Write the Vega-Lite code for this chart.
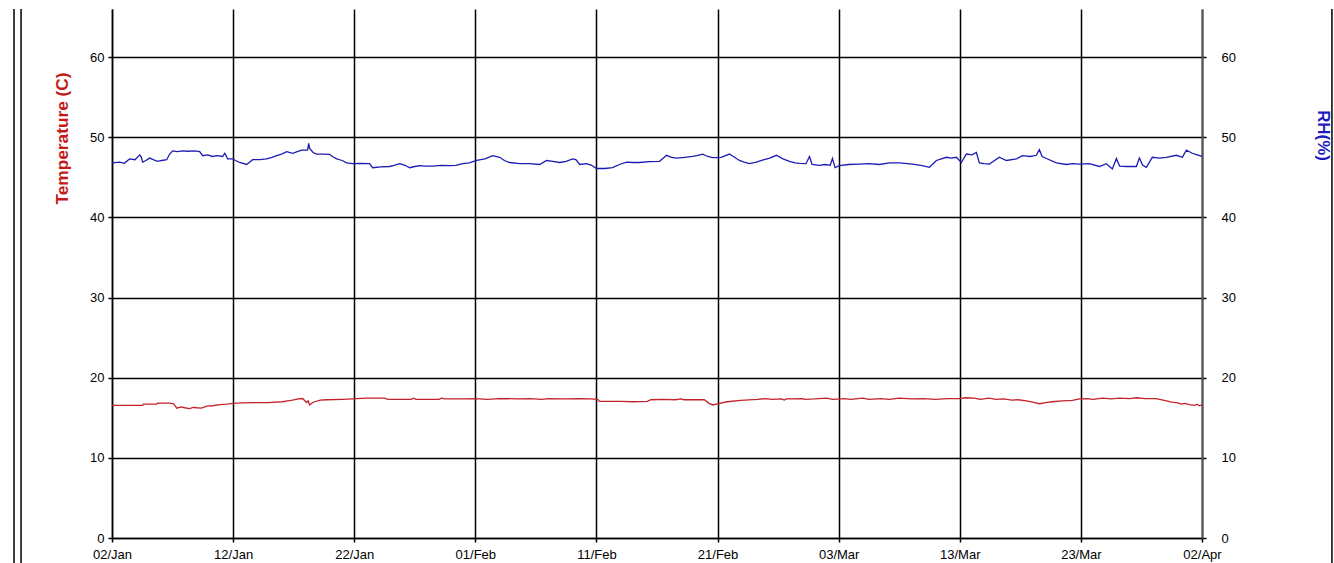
{
  "$schema": "https://vega.github.io/schema/vega-lite/v6.json",
  "width": 1090,
  "height": 529,
  "autosize": {"type": "none"},
  "padding": {"left": 112, "top": 9, "right": 132, "bottom": 25},
  "background": "white",
  "config": {"view": {"stroke": null}, "font": "Liberation Sans"},
  "datasets": {
    "temp": [
      {"day": 0, "t": 16.55}, {"day": 1.5, "t": 16.55}, {"day": 2.54, "t": 16.55}, {"day": 2.6, "t": 16.7},
      {"day": 3.2, "t": 16.7}, {"day": 3.69, "t": 16.7}, {"day": 3.75, "t": 16.83}, {"day": 4.76, "t": 16.83},
      {"day": 5.1, "t": 16.75}, {"day": 5.34, "t": 16.2}, {"day": 5.7, "t": 16.35}, {"day": 6.0, "t": 16.25},
      {"day": 6.4, "t": 16.15}, {"day": 6.7, "t": 16.3}, {"day": 7.0, "t": 16.25}, {"day": 7.4, "t": 16.2},
      {"day": 7.82, "t": 16.45}, {"day": 8.3, "t": 16.5}, {"day": 8.9, "t": 16.65}, {"day": 9.5, "t": 16.7},
      {"day": 9.96, "t": 16.8}, {"day": 10.8, "t": 16.85}, {"day": 11.61, "t": 16.9}, {"day": 12.8, "t": 16.9},
      {"day": 14.08, "t": 17.0}, {"day": 14.5, "t": 17.1}, {"day": 14.9, "t": 17.2}, {"day": 15.4, "t": 17.35},
      {"day": 15.74, "t": 17.4}, {"day": 16.07, "t": 16.9}, {"day": 16.2, "t": 17.1}, {"day": 16.32, "t": 16.6},
      {"day": 16.57, "t": 16.9}, {"day": 16.74, "t": 17.0}, {"day": 17.2, "t": 17.2}, {"day": 17.73, "t": 17.25},
      {"day": 19.0, "t": 17.3}, {"day": 19.87, "t": 17.35}, {"day": 21, "t": 17.45}, {"day": 22.5, "t": 17.45},
      {"day": 22.8, "t": 17.3}, {"day": 24.7, "t": 17.3}, {"day": 24.9, "t": 17.45}, {"day": 25.1, "t": 17.3},
      {"day": 27, "t": 17.3}, {"day": 27.2, "t": 17.45}, {"day": 27.5, "t": 17.35}, {"day": 29, "t": 17.35},
      {"day": 30, "t": 17.4}, {"day": 31, "t": 17.3}, {"day": 32, "t": 17.4}, {"day": 33.5, "t": 17.35},
      {"day": 34.5, "t": 17.4}, {"day": 35.5, "t": 17.3}, {"day": 36, "t": 17.4}, {"day": 37.5, "t": 17.35},
      {"day": 38.5, "t": 17.4}, {"day": 39.5, "t": 17.35}, {"day": 40.1, "t": 17.3}, {"day": 40.25, "t": 17.05},
      {"day": 42, "t": 17.05}, {"day": 43, "t": 17.0}, {"day": 44.2, "t": 17.05}, {"day": 44.5, "t": 17.25},
      {"day": 45.5, "t": 17.3}, {"day": 46.5, "t": 17.25}, {"day": 47, "t": 17.35}, {"day": 47.2, "t": 17.25},
      {"day": 48.9, "t": 17.25}, {"day": 49.3, "t": 16.8}, {"day": 49.6, "t": 16.6}, {"day": 49.9, "t": 16.7},
      {"day": 50.8, "t": 17.0}, {"day": 51.9, "t": 17.17}, {"day": 53.3, "t": 17.3}, {"day": 54, "t": 17.4},
      {"day": 54.5, "t": 17.3}, {"day": 55.3, "t": 17.35}, {"day": 55.5, "t": 17.2}, {"day": 55.7, "t": 17.35},
      {"day": 57, "t": 17.4}, {"day": 57.2, "t": 17.3}, {"day": 58, "t": 17.35}, {"day": 59, "t": 17.45},
      {"day": 59.5, "t": 17.3}, {"day": 60.5, "t": 17.4}, {"day": 61, "t": 17.3}, {"day": 62, "t": 17.45},
      {"day": 62.5, "t": 17.3}, {"day": 63.5, "t": 17.4}, {"day": 64.2, "t": 17.3}, {"day": 65, "t": 17.45},
      {"day": 66, "t": 17.35}, {"day": 67, "t": 17.4}, {"day": 68, "t": 17.3}, {"day": 69, "t": 17.4},
      {"day": 70, "t": 17.4}, {"day": 70.5, "t": 17.5}, {"day": 71.2, "t": 17.45}, {"day": 71.7, "t": 17.3},
      {"day": 72.4, "t": 17.45}, {"day": 73, "t": 17.3}, {"day": 73.6, "t": 17.35}, {"day": 74.3, "t": 17.2},
      {"day": 74.8, "t": 17.25}, {"day": 75.5, "t": 17.1}, {"day": 76, "t": 16.95}, {"day": 76.6, "t": 16.75},
      {"day": 77.1, "t": 16.9}, {"day": 77.6, "t": 17.0}, {"day": 78.5, "t": 17.1}, {"day": 79.3, "t": 17.17},
      {"day": 79.9, "t": 17.35}, {"day": 80.5, "t": 17.4}, {"day": 81, "t": 17.3}, {"day": 81.8, "t": 17.45},
      {"day": 82.5, "t": 17.35}, {"day": 83.2, "t": 17.45}, {"day": 84, "t": 17.4}, {"day": 84.6, "t": 17.5},
      {"day": 85.3, "t": 17.4}, {"day": 86.2, "t": 17.4}, {"day": 86.8, "t": 17.2}, {"day": 87.5, "t": 16.95},
      {"day": 88, "t": 16.85}, {"day": 88.3, "t": 16.7}, {"day": 88.6, "t": 16.8}, {"day": 88.96, "t": 16.65},
      {"day": 89.4, "t": 16.55}, {"day": 89.6, "t": 16.7}, {"day": 89.8, "t": 16.5}, {"day": 90, "t": 16.6}
    ],
    "rh": [
      {"day": 0, "rh": 46.8}, {"day": 0.64, "rh": 46.9}, {"day": 1.0, "rh": 46.75}, {"day": 1.46, "rh": 47.3},
      {"day": 1.9, "rh": 47.2}, {"day": 2.29, "rh": 47.8}, {"day": 2.4, "rh": 47.6}, {"day": 2.53, "rh": 46.9},
      {"day": 2.8, "rh": 47.1}, {"day": 3.11, "rh": 47.4}, {"day": 3.4, "rh": 47.2}, {"day": 3.77, "rh": 47.0},
      {"day": 4.1, "rh": 47.1}, {"day": 4.52, "rh": 47.2}, {"day": 4.76, "rh": 47.9}, {"day": 5.01, "rh": 48.3},
      {"day": 5.4, "rh": 48.2}, {"day": 5.84, "rh": 48.3}, {"day": 6.3, "rh": 48.25}, {"day": 6.8, "rh": 48.3},
      {"day": 7.24, "rh": 48.2}, {"day": 7.49, "rh": 47.7}, {"day": 7.9, "rh": 47.8}, {"day": 8.31, "rh": 47.6},
      {"day": 8.7, "rh": 47.7}, {"day": 9.14, "rh": 47.6}, {"day": 9.31, "rh": 48.0}, {"day": 9.55, "rh": 47.3},
      {"day": 9.96, "rh": 47.3}, {"day": 10.2, "rh": 47.1}, {"day": 10.54, "rh": 46.85}, {"day": 11.12, "rh": 46.6},
      {"day": 11.61, "rh": 47.2}, {"day": 12.2, "rh": 47.2}, {"day": 12.77, "rh": 47.3}, {"day": 13.2, "rh": 47.5},
      {"day": 13.59, "rh": 47.7}, {"day": 14.0, "rh": 47.9}, {"day": 14.42, "rh": 48.2}, {"day": 14.92, "rh": 48.0},
      {"day": 15.3, "rh": 48.2}, {"day": 15.66, "rh": 48.4}, {"day": 16.15, "rh": 48.4}, {"day": 16.24, "rh": 49.25},
      {"day": 16.32, "rh": 48.6}, {"day": 16.6, "rh": 48.1}, {"day": 16.9, "rh": 47.9}, {"day": 17.4, "rh": 47.9},
      {"day": 17.97, "rh": 47.85}, {"day": 18.2, "rh": 47.6}, {"day": 18.55, "rh": 47.3}, {"day": 19.0, "rh": 47.1},
      {"day": 19.38, "rh": 46.8}, {"day": 19.87, "rh": 46.7}, {"day": 20.5, "rh": 46.75}, {"day": 21.27, "rh": 46.7},
      {"day": 21.52, "rh": 46.2}, {"day": 22.2, "rh": 46.3}, {"day": 22.92, "rh": 46.35}, {"day": 23.3, "rh": 46.5},
      {"day": 23.75, "rh": 46.7}, {"day": 24.2, "rh": 46.5}, {"day": 24.57, "rh": 46.2}, {"day": 25.0, "rh": 46.35},
      {"day": 25.4, "rh": 46.45}, {"day": 25.9, "rh": 46.4}, {"day": 26.47, "rh": 46.4}, {"day": 27.2, "rh": 46.5},
      {"day": 27.88, "rh": 46.45}, {"day": 28.4, "rh": 46.5}, {"day": 28.95, "rh": 46.7}, {"day": 29.5, "rh": 46.8},
      {"day": 30.11, "rh": 47.1}, {"day": 30.8, "rh": 47.3}, {"day": 31.43, "rh": 47.7}, {"day": 32.01, "rh": 47.5},
      {"day": 32.4, "rh": 47.1}, {"day": 32.83, "rh": 46.85}, {"day": 33.66, "rh": 46.7}, {"day": 34.48, "rh": 46.7},
      {"day": 35.31, "rh": 46.6}, {"day": 35.88, "rh": 47.1}, {"day": 36.4, "rh": 47.0}, {"day": 36.96, "rh": 46.85},
      {"day": 37.5, "rh": 47.0}, {"day": 38.03, "rh": 47.3}, {"day": 38.3, "rh": 47.2}, {"day": 38.61, "rh": 46.6},
      {"day": 39.19, "rh": 46.7}, {"day": 39.6, "rh": 46.5}, {"day": 40.01, "rh": 46.1}, {"day": 40.7, "rh": 46.1},
      {"day": 41.33, "rh": 46.2}, {"day": 41.9, "rh": 46.6}, {"day": 42.49, "rh": 46.9}, {"day": 43.0, "rh": 46.85},
      {"day": 43.56, "rh": 46.85}, {"day": 44.4, "rh": 46.95}, {"day": 45.21, "rh": 47.0}, {"day": 45.79, "rh": 47.75},
      {"day": 46.2, "rh": 47.5}, {"day": 46.61, "rh": 47.4}, {"day": 47.3, "rh": 47.5}, {"day": 47.93, "rh": 47.6},
      {"day": 48.3, "rh": 47.7}, {"day": 48.76, "rh": 47.9}, {"day": 49.2, "rh": 47.6}, {"day": 49.58, "rh": 47.45},
      {"day": 50.3, "rh": 47.5}, {"day": 50.98, "rh": 47.9}, {"day": 51.4, "rh": 47.5}, {"day": 51.81, "rh": 47.1},
      {"day": 52.2, "rh": 46.9}, {"day": 52.63, "rh": 46.7}, {"day": 53.2, "rh": 46.9}, {"day": 53.71, "rh": 47.15},
      {"day": 54.3, "rh": 47.4}, {"day": 54.86, "rh": 47.75}, {"day": 55.4, "rh": 47.3}, {"day": 55.94, "rh": 47.0},
      {"day": 56.4, "rh": 46.8}, {"day": 56.76, "rh": 46.75}, {"day": 57.3, "rh": 46.7}, {"day": 57.59, "rh": 47.6},
      {"day": 57.8, "rh": 46.6}, {"day": 58.41, "rh": 46.5}, {"day": 58.9, "rh": 46.6}, {"day": 59.3, "rh": 46.5},
      {"day": 59.49, "rh": 47.35}, {"day": 59.7, "rh": 46.2}, {"day": 60.06, "rh": 46.45}, {"day": 60.8, "rh": 46.6},
      {"day": 61.71, "rh": 46.65}, {"day": 62.5, "rh": 46.7}, {"day": 63.36, "rh": 46.6}, {"day": 64.2, "rh": 46.8},
      {"day": 65.02, "rh": 46.8}, {"day": 66.09, "rh": 46.65}, {"day": 66.8, "rh": 46.5}, {"day": 67.49, "rh": 46.25},
      {"day": 68.07, "rh": 47.1}, {"day": 68.9, "rh": 47.5}, {"day": 69.3, "rh": 47.4}, {"day": 69.72, "rh": 47.5},
      {"day": 70.13, "rh": 46.85}, {"day": 70.54, "rh": 47.9}, {"day": 71.0, "rh": 47.8}, {"day": 71.37, "rh": 48.1},
      {"day": 71.62, "rh": 46.8}, {"day": 72.0, "rh": 46.7}, {"day": 72.44, "rh": 46.65}, {"day": 73.27, "rh": 47.5},
      {"day": 73.85, "rh": 47.1}, {"day": 74.68, "rh": 47.3}, {"day": 75.17, "rh": 47.7}, {"day": 75.8, "rh": 47.6},
      {"day": 76.33, "rh": 47.75}, {"day": 76.57, "rh": 48.45}, {"day": 76.8, "rh": 47.6}, {"day": 77.15, "rh": 47.35},
      {"day": 77.98, "rh": 46.8}, {"day": 78.8, "rh": 46.6}, {"day": 79.3, "rh": 46.7}, {"day": 79.87, "rh": 46.65},
      {"day": 80.7, "rh": 46.7}, {"day": 81.53, "rh": 46.35}, {"day": 82.1, "rh": 46.7}, {"day": 82.6, "rh": 46.05},
      {"day": 82.93, "rh": 47.35}, {"day": 83.2, "rh": 46.4}, {"day": 83.76, "rh": 46.35}, {"day": 84.58, "rh": 46.35},
      {"day": 84.83, "rh": 47.4}, {"day": 85.1, "rh": 46.5}, {"day": 85.41, "rh": 46.25}, {"day": 85.9, "rh": 47.5},
      {"day": 86.5, "rh": 47.4}, {"day": 87.06, "rh": 47.5}, {"day": 87.88, "rh": 47.75}, {"day": 88.38, "rh": 47.5},
      {"day": 88.71, "rh": 48.4}, {"day": 89.2, "rh": 48.0}, {"day": 89.6, "rh": 47.8}, {"day": 90, "rh": 47.6}
    ],
    "borders": [{"pos": -8.09}, {"pos": -7.51}, {"pos": 100.73}]
  },
  "layer": [
    {
      "data": {"name": "temp"},
      "mark": {"type": "line", "color": "#c4222a", "strokeWidth": 1.3},
      "encoding": {
        "x": {
          "field": "day", "type": "quantitative",
          "scale": {"domain": [0, 90], "nice": false, "zero": false},
          "axis": {
            "title": null,
            "values": [0, 10, 20, 30, 40, 50, 60, 70, 80, 90],
            "labelExpr": "['02/Jan','12/Jan','22/Jan','01/Feb','11/Feb','21/Feb','03/Mar','13/Mar','23/Mar','02/Apr'][round(datum.value/10)]",
            "grid": true, "gridColor": "#000000", "gridWidth": 1.5, "gridOpacity": 1,
            "domainColor": "#000000", "domainWidth": 1.5,
            "tickColor": "#000000", "tickSize": 4, "tickWidth": 1.5,
            "labelColor": "#000000", "labelFontSize": 13, "labelPadding": 6,
            "labelOverlap": false, "labelFlush": false
          }
        },
        "y": {
          "field": "t", "type": "quantitative",
          "scale": {"domain": [0, 66], "nice": false},
          "axis": {
            "orient": "left",
            "values": [0, 10, 20, 30, 40, 50, 60],
            "grid": true, "gridColor": "#000000", "gridWidth": 1.5, "gridOpacity": 1,
            "domainColor": "#000000", "domainWidth": 1.5,
            "tickColor": "#000000", "tickSize": 4, "tickWidth": 1.5,
            "labelColor": "#000000", "labelFontSize": 13, "labelPadding": 4,
            "title": "Temperature (C)", "titleColor": "#c41a1a", "titleFontSize": 17.3, "titleFontWeight": "bold",
            "titleAngle": -90, "titleX": -45, "titleY": 129, "titleAlign": "center", "titleBaseline": "alphabetic"
          }
        }
      }
    },
    {
      "data": {"name": "rh"},
      "mark": {"type": "line", "color": "#1c1cb4", "strokeWidth": 1.3},
      "encoding": {
        "x": {"field": "day", "type": "quantitative"},
        "y": {
          "field": "rh", "type": "quantitative",
          "scale": {"domain": [0, 66], "nice": false},
          "axis": {
            "orient": "right",
            "values": [0, 10, 20, 30, 40, 50, 60],
            "grid": false,
            "domainColor": "#555555", "domainWidth": 2,
            "tickColor": "#000000", "tickSize": 4, "tickWidth": 1.5,
            "labelColor": "#000000", "labelFontSize": 13, "labelPadding": 15,
            "title": "RH(%)", "titleColor": "#1c1cc0", "titleFontSize": 16.9, "titleFontWeight": "bold",
            "titleAngle": 90, "titleX": 115, "titleY": 126, "titleAlign": "center", "titleBaseline": "alphabetic"
          }
        }
      }
    },
    {
      "data": {"name": "borders"},
      "mark": {"type": "rule", "color": "#000000", "strokeWidth": 1.5, "clip": false},
      "encoding": {
        "x": {"field": "pos", "type": "quantitative"},
        "y": {"datum": 66, "type": "quantitative", "scale": {"domain": [0, 66], "nice": false}, "axis": null},
        "y2": {"datum": -3.2}
      }
    }
  ],
  "resolve": {"scale": {"y": "independent"}}
}
